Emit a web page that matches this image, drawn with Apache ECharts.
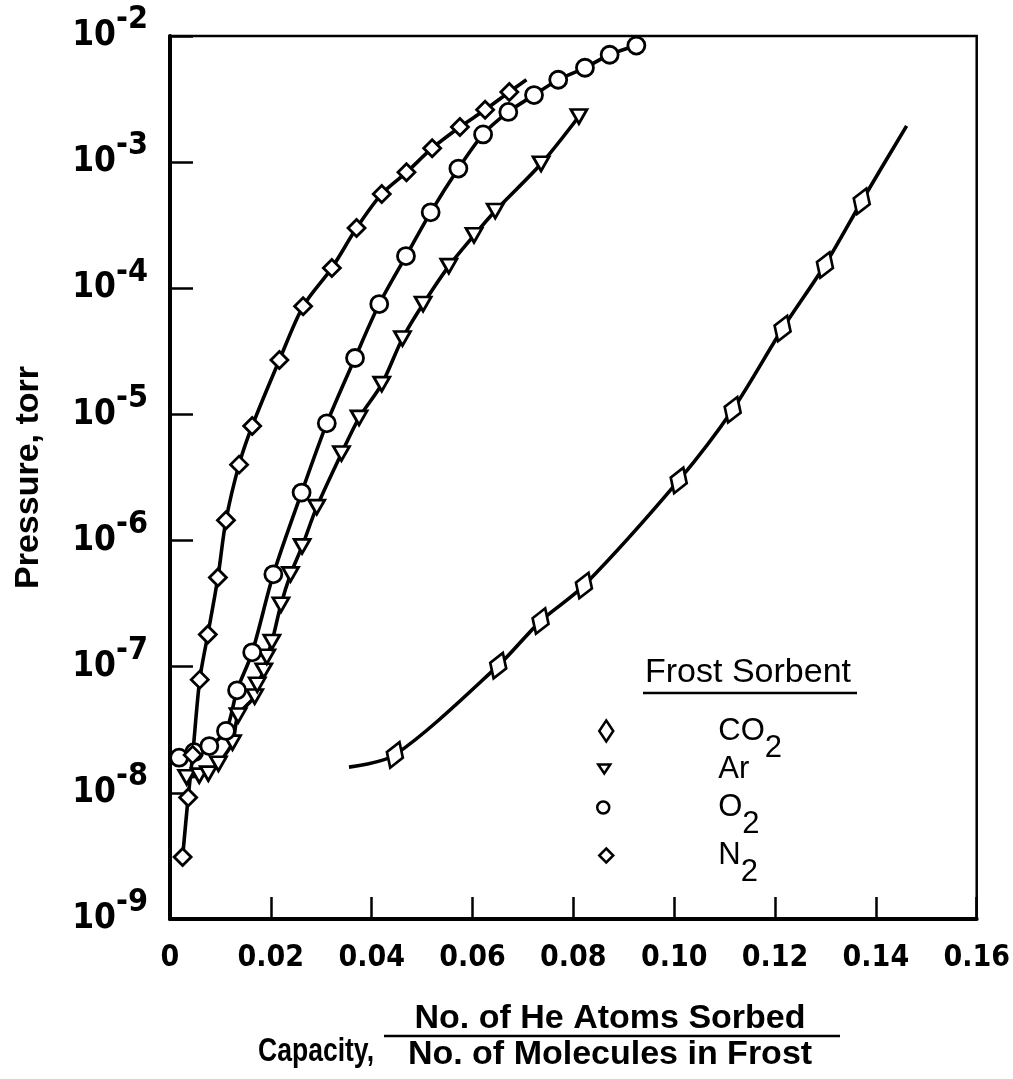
<!DOCTYPE html>
<html>
<head>
<meta charset="utf-8">
<title>Helium sorption on frost</title>
<script src="https://cdn.jsdelivr.net/npm/echarts@6/dist/echarts.min.js"></script>
<style>
  html, body { margin: 0; padding: 0; background: #fff; }
  #chart { width: 1013px; height: 1079px; }
</style>
</head>
<body>
<div id="chart"></div>
<script>
  // capacity (He atoms / molecules in frost) vs pressure in torr
  var co2Points = [
    [0.0446, 2.0e-8], [0.0651, 1.02e-7], [0.0735, 2.3e-7], [0.0821, 4.4e-7],
    [0.1009, 3.0e-6], [0.1116, 1.09e-5], [0.1215, 4.8e-5], [0.1299, 1.53e-4],
    [0.1372, 4.9e-4]
  ]
  var co2CurveStart = [0.0355, 1.6e-8]
  var co2CurveEnd = [0.1461, 1.94e-3]

  var arPoints = [
    [0.0033, 1.33e-8], [0.0058, 1.37e-8], [0.0076, 1.42e-8], [0.0096, 1.7e-8],
    [0.0124, 2.5e-8], [0.0135, 4.1e-8], [0.0168, 5.8e-8], [0.0173, 7.2e-8],
    [0.0186, 9.3e-8], [0.0192, 1.2e-7], [0.0202, 1.57e-7], [0.0220, 3.1e-7],
    [0.0239, 5.4e-7], [0.0262, 9.0e-7], [0.0291, 1.84e-6], [0.0340, 4.9e-6],
    [0.0375, 9.4e-6], [0.0420, 1.74e-5], [0.0461, 4.0e-5], [0.0502, 7.5e-5],
    [0.0553, 1.5e-4], [0.0603, 2.63e-4], [0.0645, 4.1e-4], [0.0736, 9.7e-4],
    [0.0811, 2.3e-3]
  ]

  var o2Points = [
    [0.0018, 1.9e-8], [0.0048, 2.1e-8], [0.0078, 2.35e-8], [0.0111, 3.1e-8],
    [0.0133, 6.5e-8], [0.0163, 1.3e-7], [0.0205, 5.4e-7], [0.0261, 2.4e-6],
    [0.0311, 8.5e-6], [0.0367, 2.8e-5], [0.0415, 7.5e-5], [0.0468, 1.8e-4],
    [0.0517, 4.0e-4], [0.0572, 8.9e-4], [0.0621, 1.66e-3], [0.0671, 2.5e-3],
    [0.0722, 3.4e-3], [0.0770, 4.5e-3], [0.0823, 5.6e-3], [0.0872, 7.1e-3],
    [0.0925, 8.4e-3]
  ]

  var n2Points = [
    [0.0025, 3.1e-9], [0.0036, 9.2e-9], [0.0045, 2.0e-8], [0.0059, 7.9e-8],
    [0.0075, 1.8e-7], [0.0095, 5.1e-7], [0.0111, 1.45e-6], [0.0137, 4.0e-6],
    [0.0163, 8.1e-6], [0.0217, 2.7e-5], [0.0264, 7.2e-5], [0.0321, 1.45e-4],
    [0.0370, 3.0e-4], [0.0420, 5.6e-4], [0.0469, 8.3e-4], [0.0520, 1.29e-3],
    [0.0575, 1.9e-3], [0.0625, 2.6e-3], [0.0673, 3.6e-3]
  ]
  var n2CurveEnd = [0.0707, 4.5e-3]

  var xTicks = [0, 0.02, 0.04, 0.06, 0.08, 0.10, 0.12, 0.14, 0.16]
  var gasNames = ['CO2', 'Ar', 'O2', 'N2']

  var narrow = "'Liberation Sans Narrow', 'DejaVu Sans Condensed', sans-serif"
  var plain = "'Liberation Sans', Arial, sans-serif"

  // curve end points that carry no marker
  function bare(p) {
    return { value: p, symbol: 'none' }
  }

  function gasSeries(name, data, symbol, size, rotate) {
    return {
      name: name,
      type: 'line',
      smooth: 0.3,
      data: data,
      symbol: symbol,
      symbolSize: size,
      symbolRotate: rotate,
      showAllSymbol: true,
      lineStyle: { color: '#000', width: 3.6 },
      itemStyle: { color: '#fff', borderColor: '#000', borderWidth: 2.8 },
      emphasis: { disabled: true },
      z: 3
    }
  }

  // legend entry labels: chemical names with subscripts
  function legendText(name) {
    var m = name.match(/^([A-Za-z]+)(\d?)$/)
    return '{g| }{n|' + m[1] + '}{s|' + (m[2] || ' ') + '}'
  }

  // the rich label box is 60px high, centred on the icon; top is the icon top
  function legendEntry(name, icon, left, iconTop, w, h) {
    return {
      data: [{ name: name, icon: icon, itemStyle: { color: '#fff', borderColor: '#000', borderWidth: 2.5 } }],
      left: left,
      top: iconTop - (30 - h / 2),
      padding: 0,
      itemWidth: w,
      itemHeight: h,
      selectedMode: false,
      formatter: legendText,
      textStyle: {
        color: '#000',
        rich: {
          g: { width: 717 - left - w - 5, fontSize: 10 },
          n: { fontFamily: plain, fontSize: 31, lineHeight: 26, verticalAlign: 'middle', color: '#000' },
          s: { fontFamily: plain, fontSize: 31, lineHeight: 26, padding: [34, 0, 0, 0], verticalAlign: 'middle', color: '#000' }
        }
      }
    }
  }

  var chart = echarts.init(document.getElementById('chart'))

  chart.setOption({
    backgroundColor: '#fff',
    animation: false,
    grid: {
      left: 170, right: 36, top: 36, bottom: 160,
      show: true, borderColor: '#000', borderWidth: 2.5
    },
    xAxis: {
      type: 'value',
      min: xTicks[0],
      max: xTicks[xTicks.length - 1],
      interval: 0.02,
      axisLine: { lineStyle: { color: '#000', width: 4 } },
      axisTick: { inside: true, length: 22, lineStyle: { color: '#000', width: 2.5 } },
      splitLine: { show: false },
      axisLabel: {
        margin: 24,
        color: '#000',
        fontFamily: narrow,
        fontWeight: 'bold',
        fontSize: 30,
        formatter: function (v) {
          return v === 0 ? '0' : v.toFixed(2)
        }
      }
    },
    yAxis: {
      type: 'log',
      logBase: 10,
      min: 1e-9,
      max: 1e-2,
      name: 'Pressure, torr',
      nameLocation: 'middle',
      nameRotate: 90,
      nameGap: 124,
      nameTextStyle: { fontFamily: plain, fontWeight: 'bold', fontSize: 34, color: '#000' },
      axisLine: { lineStyle: { color: '#000', width: 4 } },
      axisTick: { inside: true, length: 23, lineStyle: { color: '#000', width: 2.5 } },
      splitLine: { show: false },
      axisLabel: {
        margin: 22,
        formatter: function (v) {
          return '{b|10}{e|' + Math.round(Math.log10(v)) + '}'
        },
        rich: {
          b: { fontFamily: narrow, fontWeight: 'bold', fontSize: 35, lineHeight: 34, verticalAlign: 'middle', color: '#000' },
          e: { fontFamily: narrow, fontWeight: 'bold', fontSize: 32, lineHeight: 34, padding: [0, 0, 32, 0], verticalAlign: 'middle', color: '#000' }
        }
      }
    },
    legend: [
      legendEntry(gasNames[0], 'diamond', 598, 718, 14, 21),
      legendEntry(gasNames[1], 'path://M0,0L12,0L6,9Z', 597, 762, 12, 9),
      legendEntry(gasNames[2], 'circle', 596, 799, 12, 12),
      legendEntry(gasNames[3], 'diamond', 598, 846, 14, 14)
    ],
    graphic: [
      {
        type: 'text', x: 748, y: 673,
        style: { text: 'Frost Sorbent', font: '34px ' + plain, fill: '#000', align: 'center', verticalAlign: 'middle' }
      },
      { type: 'line', shape: { x1: 643, y1: 693, x2: 857, y2: 693 }, style: { stroke: '#000', lineWidth: 2.5 } },
      {
        type: 'text', x: 374, y: 1052, scaleX: 0.78,
        style: { text: 'Capacity,', font: 'bold 34px ' + plain, fill: '#000', align: 'right', verticalAlign: 'middle' }
      },
      {
        type: 'text', x: 610, y: 1019,
        style: { text: 'No. of He Atoms Sorbed', font: 'bold 34px ' + plain, fill: '#000', align: 'center', verticalAlign: 'middle' }
      },
      { type: 'line', shape: { x1: 384, y1: 1036, x2: 840, y2: 1036 }, style: { stroke: '#000', lineWidth: 2.5 } },
      {
        type: 'text', x: 610, y: 1055,
        style: { text: 'No. of Molecules in Frost', font: 'bold 34px ' + plain, fill: '#000', align: 'center', verticalAlign: 'middle' }
      }
    ],
    series: [
      gasSeries(gasNames[0], [bare(co2CurveStart)].concat(co2Points, [bare(co2CurveEnd)]), 'diamond', [17, 27], -20),
      gasSeries(gasNames[1], arPoints, 'triangle', [16, 14], 180),
      gasSeries(gasNames[2], o2Points, 'circle', 17, 0),
      gasSeries(gasNames[3], n2Points.concat([bare(n2CurveEnd)]), 'diamond', [17, 17], 0)
    ]
  })
</script>
</body>
</html>
